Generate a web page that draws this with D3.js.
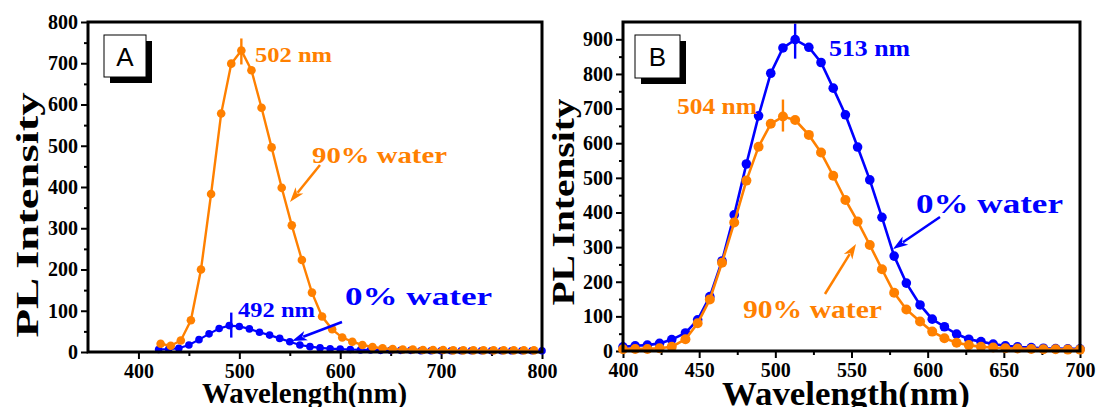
<!DOCTYPE html>
<html>
<head>
<meta charset="utf-8">
<script src="https://cdn.jsdelivr.net/npm/d3@7"></script>
<style>
  html, body { margin: 0; padding: 0; background: #fff; }
  svg { display: block; }
  .serif { font-family: 'Liberation Serif', 'Times New Roman', Times, serif; font-weight: bold; }
  .sans { font-family: 'Liberation Sans', Arial, Helvetica, sans-serif; font-weight: normal; }
</style>
</head>
<body>
<svg id="chart" width="1102" height="407"></svg>
<script>
// ---------- Panel A: emission in THF (0% water) and 90% water ----------
const aWaveOrange = [422, 432, 442, 452, 462, 472, 482, 492, 502, 512, 522, 532, 542, 552, 562, 572, 582, 592, 602, 612,
                     622, 632, 642, 652, 662, 672, 682, 692, 702, 712, 722, 732, 742, 752, 762, 772, 782, 792];
const aOrange = [20, 15, 28, 77, 200, 383, 578, 699, 731, 683, 592, 496, 398, 307, 223, 144, 86, 55, 35, 25,
                 17, 12, 9, 7, 6, 6, 5, 5, 5, 4, 4, 4, 4, 4, 4, 4, 4, 4];
const aWaveBlue = [420, 430, 440, 450, 460, 470, 480, 490, 500, 510, 520, 530, 540, 550, 560, 570, 580, 590, 600, 610,
                   620, 630, 640, 650, 660, 670, 680, 690, 700, 710, 720, 730, 740, 750, 760, 770, 780, 790, 800];
const aBlue = [6, 7, 9, 17, 30, 44, 57, 64, 62, 56, 48, 41, 33, 25, 17, 13, 10, 8, 7, 6,
               5, 5, 4, 4, 4, 4, 3, 3, 3, 3, 3, 3, 3, 3, 3, 3, 3, 3, 3];
const aXTicks = [400, 500, 600, 700, 800];
const aXMinor = [450, 550, 650, 750];
const aYTicks = [0, 100, 200, 300, 400, 500, 600, 700, 800];
const aYMinor = [50, 150, 250, 350, 450, 550, 650, 750];
const aPeakOrange = 502, aPeakBlue = 492;

// ---------- Panel B ----------
const bWave = [400, 408, 416, 424, 432, 441, 449, 457, 465, 473, 481, 489, 497, 505, 513, 522, 530, 538, 546, 554,
               562, 570, 578, 586, 595, 603, 611, 619, 627, 635, 643, 651, 659, 668, 676, 684, 692, 700];
const bBlue = [12, 15, 17, 22, 33, 52, 90, 157, 260, 393, 540, 679, 802, 875, 899, 877, 833, 759, 682, 589,
               494, 386, 274, 196, 133, 92, 70, 49, 34, 27, 20, 15, 12, 10, 8, 7, 6, 6];
const bOrange = [5, 6, 6, 8, 12, 34, 80, 149, 255, 371, 492, 590, 656, 677, 667, 624, 573, 506, 436, 374,
                 306, 236, 168, 120, 85, 56, 37, 24, 17, 12, 10, 8, 7, 6, 5, 5, 4, 4];
const bXTicks = [400, 450, 500, 550, 600, 650, 700];
const bXMinor = [425, 475, 525, 575, 625, 675];
const bYTicks = [0, 100, 200, 300, 400, 500, 600, 700, 800, 900];
const bYMinor = [50, 150, 250, 350, 450, 550, 650, 750, 850];
const bPeakBlue = 513, bPeakOrange = 505;

const ORANGE = '#FF8000';
const BLUE = '#0000FF';

const svg = d3.select('#chart');
svg.append('rect').attr('width', 1102).attr('height', 407).attr('fill', '#fff');

function styleAxis(sel) {
  sel.select('.domain').remove();
  sel.attr('font-family', null).attr('font-size', null);
  sel.selectAll('.tick line').attr('stroke', '#000').attr('stroke-width', 2);
  sel.selectAll('.tick text')
    .attr('class', 'serif')
    .style('font-size', '20px').attr('fill', '#000');
}

function addText(g, txt, opts) {
  const t = g.append('text')
    .attr('class', opts.cls || 'serif')
    .attr('x', opts.x).attr('y', opts.y)
    .style('font-size', opts.size + 'px')
    .attr('fill', opts.color || '#000')
    .text(txt);
  if (opts.length) t.attr('textLength', opts.length).attr('lengthAdjust', 'spacingAndGlyphs');
  if (opts.rotate) t.attr('transform', `rotate(-90, ${opts.x}, ${opts.y})`).attr('text-anchor', 'middle');
  return t;
}

function arrow(g, x1, y1, x2, y2, color) {
  const ang = Math.atan2(y2 - y1, x2 - x1);
  const len = 15, half = 5;
  const bx = x2 - len * Math.cos(ang), by = y2 - len * Math.sin(ang);
  g.append('line').attr('x1', x1).attr('y1', y1).attr('x2', bx + 3 * Math.cos(ang)).attr('y2', by + 3 * Math.sin(ang))
    .attr('stroke', color).attr('stroke-width', 2.5);
  const px = -Math.sin(ang), py = Math.cos(ang);
  const notchX = x2 - (len - 4) * Math.cos(ang), notchY = y2 - (len - 4) * Math.sin(ang);
  g.append('path')
    .attr('d', `M${x2},${y2} L${bx + half * px},${by + half * py} L${notchX},${notchY} L${bx - half * px},${by - half * py} Z`)
    .attr('fill', color);
}

function drawPanel(p) {
  const g = svg.append('g');
  const x = d3.scaleLinear().domain(p.xDomain).range([p.left, p.right]);
  const y = d3.scaleLinear().domain(p.yDomain).range([p.bottom, p.top]);

  // minor ticks
  g.append('g').attr('transform', `translate(0,${p.bottom})`)
    .call(d3.axisBottom(x).tickValues(p.xMinor).tickSize(4).tickFormat(''))
    .call(styleAxis);
  g.append('g').attr('transform', `translate(${p.left},0)`)
    .call(d3.axisLeft(y).tickValues(p.yMinor).tickSize(4).tickFormat(''))
    .call(styleAxis);
  // major ticks with labels
  g.append('g').attr('transform', `translate(0,${p.bottom})`)
    .call(d3.axisBottom(x).tickValues(p.xTicks).tickSize(7).tickPadding(5).tickFormat(d3.format('d')))
    .call(styleAxis);
  g.append('g').attr('transform', `translate(${p.left},0)`)
    .call(d3.axisLeft(y).tickValues(p.yTicks).tickSize(7).tickPadding(3).tickFormat(d3.format('d')))
    .call(styleAxis);

  // series
  p.series.forEach(s => {
    const pts = s.x.map((w, i) => [w, s.y[i]]);
    g.append('path').datum(pts)
      .attr('fill', 'none').attr('stroke', s.color).attr('stroke-width', s.w)
      .attr('d', d3.line().x(d => x(d[0])).y(d => y(d[1])));
    g.append('g').selectAll('circle').data(pts).join('circle')
      .attr('cx', d => x(d[0])).attr('cy', d => y(d[1])).attr('r', s.r).attr('fill', s.color);
    // peak marker
    const peakVal = d3.max(s.y);
    g.append('line')
      .attr('x1', x(s.peak)).attr('x2', x(s.peak))
      .attr('y1', y(peakVal) - s.mark[0]).attr('y2', y(peakVal) + s.mark[1])
      .attr('stroke', s.color).attr('stroke-width', 2.4);
  });

  // frame
  g.append('rect').attr('x', p.left).attr('y', p.top)
    .attr('width', p.right - p.left).attr('height', p.bottom - p.top)
    .attr('fill', 'none').attr('stroke', '#000').attr('stroke-width', 3);

  // panel letter box
  const b = p.box;
  g.append('rect').attr('x', b.x + 6).attr('y', b.y + 6).attr('width', b.w).attr('height', b.h).attr('fill', '#000');
  g.append('rect').attr('x', b.x).attr('y', b.y).attr('width', b.w).attr('height', b.h)
    .attr('fill', '#fff').attr('stroke', '#000').attr('stroke-width', 1);
  addText(g, p.letter, { x: b.x + b.w / 2, y: b.y + 31, size: 26, cls: 'sans' })
    .attr('text-anchor', 'middle');

  // axis titles
  addText(g, 'Wavelength(nm)', p.xTitle);
  addText(g, 'PL Intensity', Object.assign({ rotate: true }, p.yTitle));

  p.notes.forEach(n => addText(g, n.text, n));
  p.arrows.forEach(a => arrow(g, a[0], a[1], a[2], a[3], a[4]));
}

drawPanel({
  left: 88, right: 542, top: 22, bottom: 352,
  xDomain: [350, 800], yDomain: [0, 800],
  xTicks: aXTicks, xMinor: aXMinor, yTicks: aYTicks, yMinor: aYMinor,
  series: [
    { x: aWaveBlue, y: aBlue, color: BLUE, r: 3.8, w: 2.2, peak: aPeakBlue, mark: [13, 12] },
    { x: aWaveOrange, y: aOrange, color: ORANGE, r: 4.3, w: 2.4, peak: aPeakOrange, mark: [12, 14] }
  ],
  letter: 'A', box: { x: 104, y: 35, w: 42, h: 42 },
  xTitle: { x: 202, y: 403, size: 30, length: 205 },
  yTitle: { x: 38, y: 215, size: 31, length: 245 },
  notes: [
    { text: aPeakOrange + ' nm', x: 255, y: 61.5, size: 22, length: 77, color: ORANGE },
    { text: '90% water', x: 312, y: 163, size: 24, length: 135, color: ORANGE },
    { text: aPeakBlue + ' nm', x: 238, y: 317, size: 21, length: 77, color: BLUE },
    { text: '0% water', x: 345, y: 305, size: 26, length: 147, color: BLUE }
  ],
  arrows: [
    [320, 165, 290, 202, ORANGE],
    [342, 322, 292, 341, BLUE]
  ]
});

drawPanel({
  left: 623, right: 1080, top: 22, bottom: 351,
  xDomain: [400, 700], yDomain: [0, 950],
  xTicks: bXTicks, xMinor: bXMinor, yTicks: bYTicks, yMinor: bYMinor,
  series: [
    { x: bWave, y: bBlue, color: BLUE, r: 4.8, w: 2.6, peak: bPeakBlue, mark: [16, 19] },
    { x: bWave, y: bOrange, color: ORANGE, r: 5, w: 2.6, peak: bPeakOrange, mark: [17, 15] }
  ],
  letter: 'B', box: { x: 635, y: 35, w: 45, h: 43 },
  xTitle: { x: 722, y: 405, size: 34, length: 248 },
  yTitle: { x: 574, y: 202, size: 31, length: 207 },
  notes: [
    { text: bPeakBlue + ' nm', x: 829, y: 56, size: 23, length: 81, color: BLUE },
    { text: '504 nm', x: 677, y: 114, size: 24, length: 80, color: ORANGE },
    { text: '0% water', x: 916, y: 213, size: 28, length: 147, color: BLUE },
    { text: '90% water', x: 743, y: 318, size: 26, length: 139, color: ORANGE }
  ],
  arrows: [
    [940, 217, 893, 249, BLUE],
    [825, 294, 856, 244, ORANGE]
  ]
});
</script>
</body>
</html>
